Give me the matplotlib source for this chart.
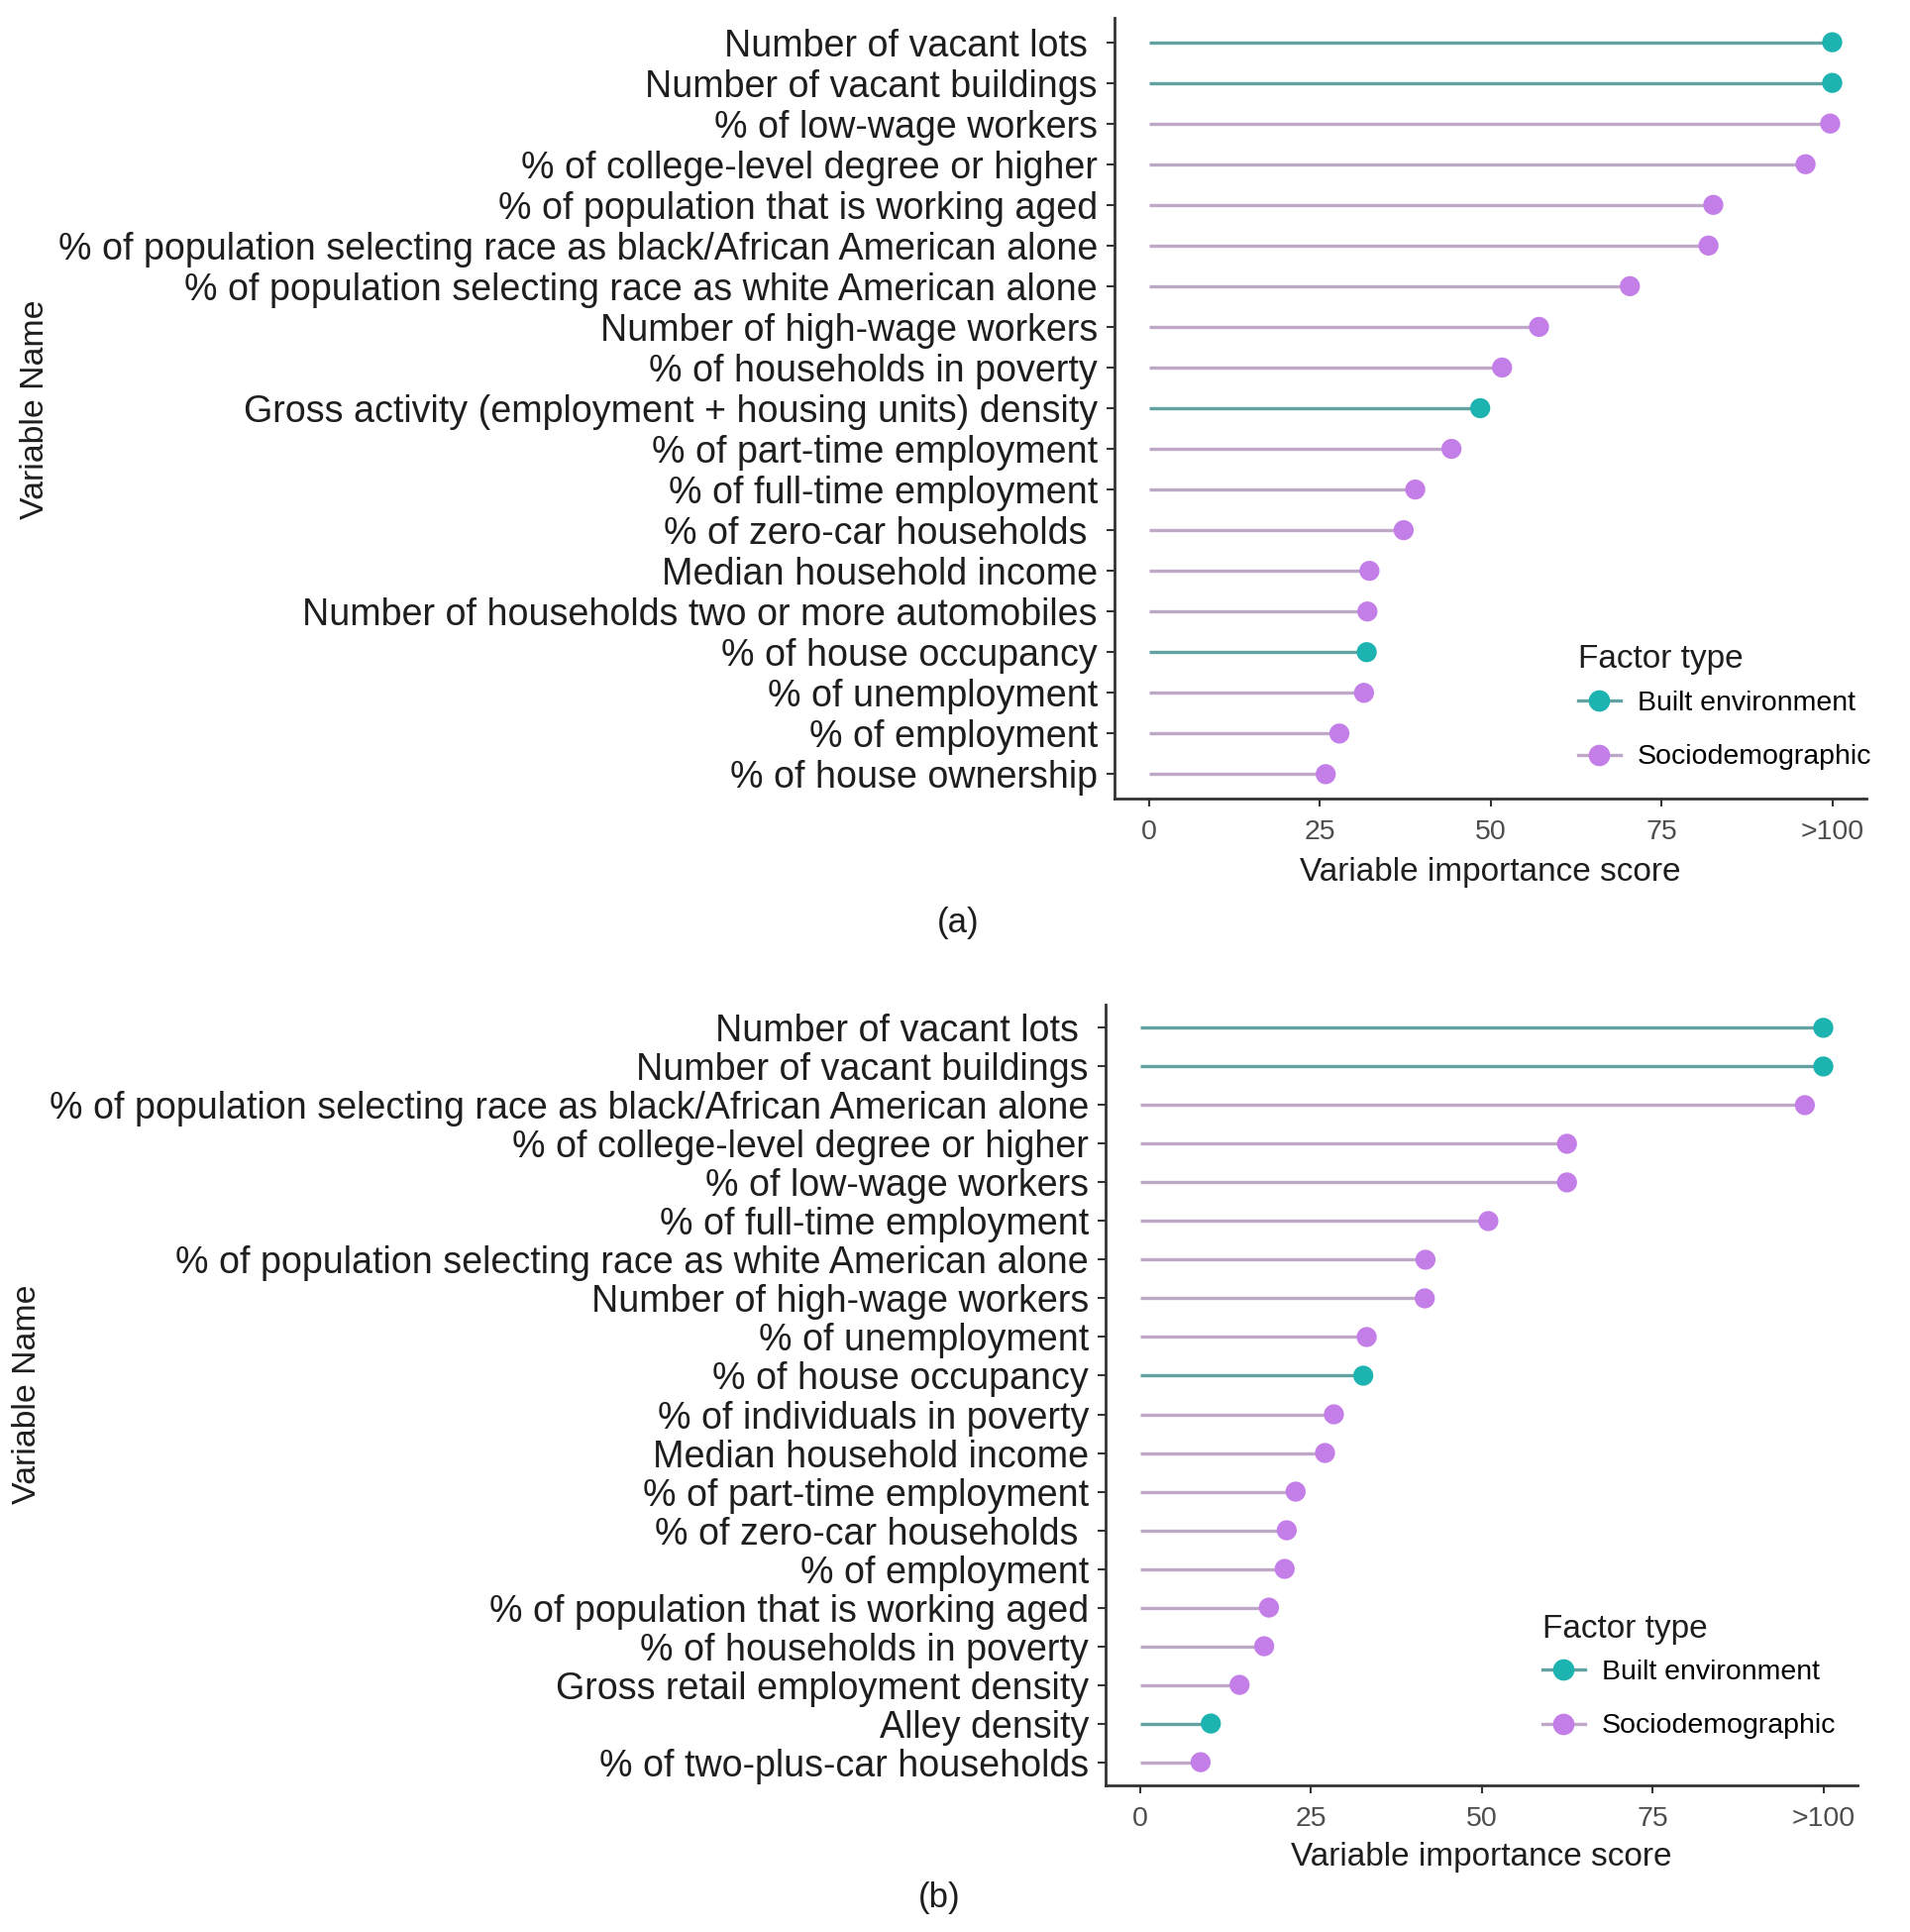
import matplotlib
matplotlib.use("Agg")
import matplotlib.pyplot as plt
from matplotlib.lines import Line2D

# panel (a)
labels_a = [
    "Number of vacant lots ",
    "Number of vacant buildings",
    "% of low-wage workers",
    "% of college-level degree or higher",
    "% of population that is working aged",
    "% of population selecting race as black/African American alone",
    "% of population selecting race as white American alone",
    "Number of high-wage workers",
    "% of households in poverty",
    "Gross activity (employment + housing units) density",
    "% of part-time employment",
    "% of full-time employment",
    "% of zero-car households ",
    "Median household income",
    "Number of households two or more automobiles",
    "% of house occupancy",
    "% of unemployment",
    "% of employment",
    "% of house ownership",
]
scores_a = [100, 100, 99.7, 96.1, 82.6, 81.9, 70.4, 57.1, 51.7, 48.5,
            44.3, 39.0, 37.3, 32.3, 32.0, 31.9, 31.5, 27.9, 25.9]
types_a = ["B", "B", "S", "S", "S", "S", "S", "S", "S", "B",
           "S", "S", "S", "S", "S", "B", "S", "S", "S"]

# panel (b)
labels_b = [
    "Number of vacant lots ",
    "Number of vacant buildings",
    "% of population selecting race as black/African American alone",
    "% of college-level degree or higher",
    "% of low-wage workers",
    "% of full-time employment",
    "% of population selecting race as white American alone",
    "Number of high-wage workers",
    "% of unemployment",
    "% of house occupancy",
    "% of individuals in poverty",
    "Median household income",
    "% of part-time employment",
    "% of zero-car households ",
    "% of employment",
    "% of population that is working aged",
    "% of households in poverty",
    "Gross retail employment density",
    "Alley density",
    "% of two-plus-car households",
]
scores_b = [100, 100, 97.3, 62.5, 62.5, 51.0, 41.8, 41.7, 33.2, 32.7,
            28.4, 27.1, 22.8, 21.5, 21.2, 18.9, 18.2, 14.6, 10.4, 8.9]
types_b = ["B", "B", "S", "S", "S", "S", "S", "S", "S", "B",
           "S", "S", "S", "S", "S", "S", "S", "S", "B", "S"]

x_ticks = [0, 25, 50, 75, 100]
x_ticklabels = ["0", "25", "50", "75", ">100"]
type_names = {"B": "Built environment", "S": "Sociodemographic"}

MARK = {"B": "#1db3b0", "S": "#c47ee8"}
SEG = {"B": "#62a2a2", "S": "#bea8c8"}
FONT = "Liberation Sans"
W, H = 1928, 1950


def fx(px):
    return px / W


def fy(py):
    return 1 - py / H


def draw_panel(fig, box, labels, scores, types, xlab_y, leg, tag, tag_xy, yname_xy):
    left, top, right, bottom = box
    ax = fig.add_axes([fx(left), fy(bottom), fx(right - left), (bottom - top) / H])
    n = len(labels)
    ypos = list(range(n))

    for t in ["B", "S"]:
        ys = [y for y, tt in zip(ypos, types) if tt == t]
        xs = [s for s, tt in zip(scores, types) if tt == t]
        ax.hlines(ys, 0, xs, color=SEG[t], lw=2.4, zorder=1)
        ax.scatter(xs, ys, s=14.6 ** 2, color=MARK[t], edgecolors="none", zorder=2)

    ax.set_xlim(-5, 105)
    ax.set_ylim(n - 1 + 0.6, -0.6)
    ax.set_yticks(ypos)
    ax.set_yticklabels(labels, fontsize=27.1, family=FONT, color="#1e1e1e")
    ax.set_xticks(x_ticks)
    ax.set_xticklabels(x_ticklabels, fontsize=20.5, family=FONT, color="#4d4d4d")

    for side in ["top", "right"]:
        ax.spines[side].set_visible(False)
    for side in ["left", "bottom"]:
        ax.spines[side].set_linewidth(2)
        ax.spines[side].set_color("#333333")
    ax.tick_params(axis="y", length=5.8, width=1.5, pad=6.5, color="#333333")
    ax.tick_params(axis="x", length=5.8, width=1.5, pad=9, color="#333333")

    ax.set_xlabel("Variable importance score", fontsize=24, family=FONT, color="#1e1e1e")
    ax.xaxis.set_label_coords(0.5, -(xlab_y - bottom) / (bottom - top))
    ax.xaxis.label.set_va("center")

    # legend: title as its own text, entries below
    title_x, title_base, entries_top = leg
    fig.text(fx(title_x), fy(title_base), "Factor type", fontsize=24, family=FONT,
             ha="left", va="baseline", color="#1e1e1e")
    handles = [
        Line2D([], [], color=SEG[t], lw=2.4, marker="o", ms=14.6, mfc=MARK[t], mec=MARK[t],
               label=type_names[t])
        for t in ["B", "S"]
    ]
    ax.legend(handles=handles, loc="upper left",
              bbox_to_anchor=(fx(title_x), fy(entries_top)), bbox_transform=fig.transFigure,
              frameon=False, prop={"family": FONT, "size": 20.5},
              handlelength=1.5, handletextpad=0.6,
              labelspacing=1.0, borderpad=0, borderaxespad=0)

    fig.text(fx(tag_xy[0]), fy(tag_xy[1]), tag, fontsize=25, family=FONT,
             ha="center", va="center", color="#1e1e1e")
    fig.text(fx(yname_xy[0]), fy(yname_xy[1]), "Variable Name", fontsize=24.4,
             family=FONT, rotation=90, ha="center", va="center", color="#1e1e1e")
    return ax


fig = plt.figure(figsize=(W / 100, H / 100), dpi=100)
draw_panel(fig, (1125, 18, 1884, 806), labels_a, scores_a, types_a,
           881, (1593, 674, 697), "(a)", (967, 931), (36, 413))
draw_panel(fig, (1116, 1014, 1875, 1802), labels_b, scores_b, types_b,
           1874, (1557, 1653, 1675), "(b)", (948, 1916), (28, 1407))
fig.savefig("out.png", dpi=100, facecolor="white")
